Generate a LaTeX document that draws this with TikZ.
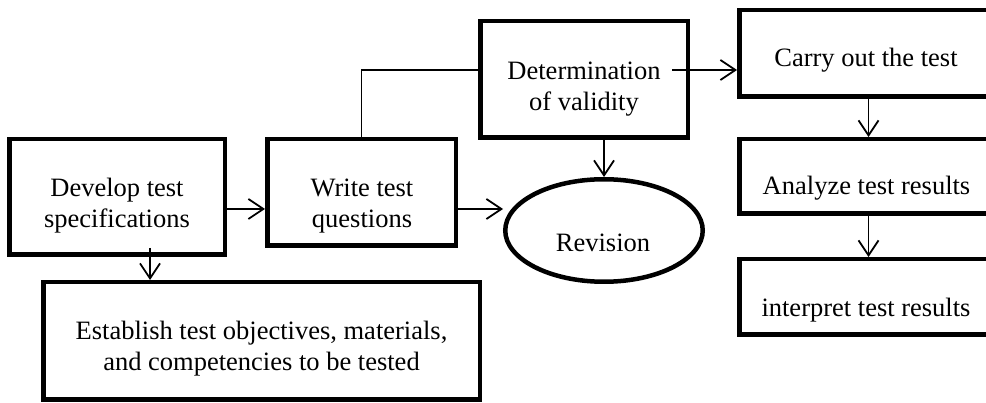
\documentclass[tikz,border=0pt]{standalone}
\usepackage{fontspec}
\setmainfont{Liberation Serif}
\usetikzlibrary{arrows.meta,shapes.geometric}
\newcommand\twoline[2]{\begin{tabular}[t]{@{}c@{}}#1\\#2\end{tabular}}
\begin{document}
\begin{tikzpicture}[x=1pt,y=-1pt,
  box/.style={draw,line width=4.5pt,fill=white,inner sep=0pt},
  txt/.style={font=\fontsize{26.5}{31}\selectfont,inner sep=0pt,anchor=base},
  arr/.style={-{Straight Barb[length=15pt,width=20pt]},line width=1.8pt},
  conn/.style={line width=1.8pt}]
\useasboundingbox (0,0) rectangle (986,403);
\clip (0,0) rectangle (986,403);
% boxes
\node[box,minimum width=215.5pt,minimum height=115.5pt] (dev) at (117,197) {};
\node[box,minimum width=188.5pt,minimum height=106.5pt] (write) at (361.5,192.5) {};
\node[box,minimum width=436.5pt,minimum height=117.5pt] (est) at (261.5,341) {};
\node[box,minimum width=207.5pt,minimum height=116.5pt] (det) at (584,79.5) {};
\node[box,minimum width=258.5pt,minimum height=86.5pt] (carry) at (868.5,53.5) {};
\node[box,minimum width=258.5pt,minimum height=74.5pt] (ana) at (868.5,176.5) {};
\node[box,minimum width=258.5pt,minimum height=75.5pt] (int) at (868.5,297) {};
\node[draw,ellipse,line width=4.5pt,fill=white,inner sep=0pt,
      minimum width=197.5pt,minimum height=102.5pt] (rev) at (604,230.5) {};
% texts
\node[txt] (devt) at (117,197) {\twoline{Develop test}{specifications}};
\node[txt] (writet) at (362,197) {\twoline{Write test}{questions}};
\node[txt] (estt) at (261.5,340) {\twoline{Establish test objectives, materials,}{and competencies to be tested}};
\node[txt] (dett) at (584,80) {\twoline{Determination}{of validity}};
\node[txt] (carryt) at (866,67) {Carry out the test};
\node[txt] (anat) at (866.5,195) {Analyze test results};
\node[txt] (intt) at (866,317) {interpret test results};
\node[txt] (revt) at (603,252) {Revision};
% helper coordinates
\coordinate (ya) at (0,209);
\coordinate (yb) at (0,70);
\coordinate (ds) at (672,70);
\coordinate (xe) at (150,0);
% connectors
\draw[arr] (dev.east |- ya) -- (write.west |- ya);
\draw[arr] (write.east |- ya) -- (rev.west |- ya);
\draw[arr,shorten <=-9pt] (dev.south -| xe) -- (est.north -| xe);
\draw[conn] (write.north) |- (det.west |- yb);
\draw[arr] (ds) -- (carry.west |- yb);
\draw[arr] (rev.north |- det.south) -- (rev.north);
\draw[arr] (carry.south) -- (ana.north);
\draw[arr] (ana.south) -- (int.north);
\end{tikzpicture}
\end{document}
